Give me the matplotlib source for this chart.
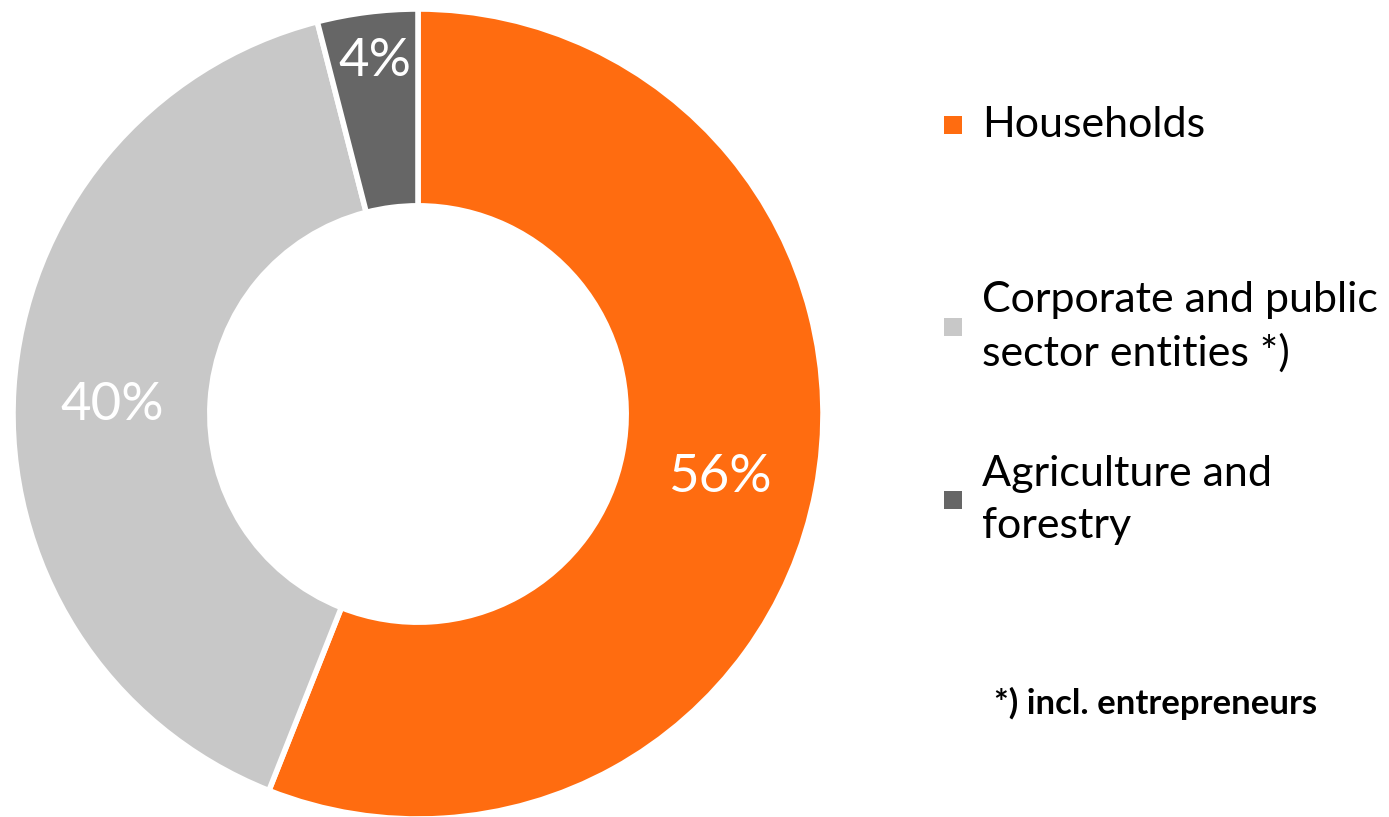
import matplotlib.pyplot as plt
from matplotlib.patches import Rectangle

labels = ['Households', 'Corporate and public\nsector entities *)', 'Agriculture and\nforestry']
values = [56, 40, 4]
pct_text = ['56%', '40%', '4%']
colors = ['#FF6C10', '#C8C8C8', '#666666']

plt.rcParams['font.family'] = ['Lato', 'DejaVu Sans']

fig = plt.figure(figsize=(13.89, 8.17), dpi=100)
ax = fig.add_axes([13/1389, -2/817, 810/1389, 810/817])
wedges, _ = ax.pie(values, colors=colors, startangle=90, counterclock=False,
                   radius=1.0, wedgeprops=dict(width=0.486, edgecolor='white', linewidth=4))
ax.set_xlim(-1, 1)
ax.set_ylim(-1, 1)
ax.set_aspect('equal')

# label positions (axes fraction)
pos = [(0.873, 0.421), (0.123, 0.511), (0.447, 0.935)]
for (x, y), t in zip(pos, pct_text):
	ax.text(x, y, t, transform=ax.transAxes, color='white', fontsize=38,
		ha='center', va='center', zorder=5)

# legend drawn by hand
leg_y = [125, 327, 500]
for yy, lab, c in zip(leg_y, labels, colors):
	fig.patches.append(Rectangle((944/1389, 1 - (yy+9)/817), 18/1389, 18/817,
		transform=fig.transFigure, facecolor=c, edgecolor='none'))
	fig.text(982/1389, 1 - yy/817, lab, fontsize=31, ha='left', va='center',
		linespacing=1.45)

fig.text(1156/1389, 1 - 703/817, '*) incl. entrepreneurs', fontsize=25,
	fontweight='bold', ha='center', va='center')

fig.savefig('out.png')
plt.close(fig)
